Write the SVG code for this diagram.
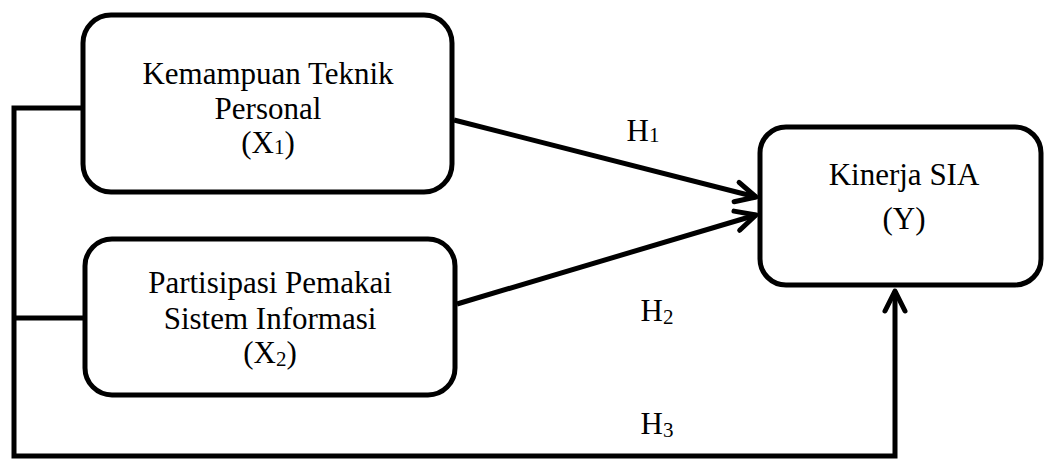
<svg xmlns="http://www.w3.org/2000/svg" width="1047" height="460" viewBox="0 0 1047 460">
  <style>
    .box { fill: #ffffff; stroke: #000000; stroke-width: 5; }
    .conn { fill: none; stroke: #000000; stroke-width: 5; stroke-linejoin: miter; }
    .lbl { font-family: 'Liberation Serif', 'Times New Roman', Times, serif; font-size: 31px; fill: #000000; text-anchor: middle; }
    .sub { font-size: 21px; }
  </style>
  <defs>
    <marker id="arrow" markerUnits="userSpaceOnUse" viewBox="-26 -14 30 28" markerWidth="30" markerHeight="28" refX="0" refY="0" orient="auto" overflow="visible">
      <path d="M-20,-10 L0,0 L-20,10" fill="none" stroke="#000000" stroke-width="5" stroke-linecap="round" stroke-linejoin="round"/>
    </marker>
  </defs>
  <rect width="1047" height="460" fill="#ffffff"/>

  <g id="connectors">
    <path class="conn" d="M81,108 H14 V456 H895 V291" marker-end="url(#arrow)"/>
    <path class="conn" d="M14,318 H83"/>
    <path class="conn" d="M454,120 L756,197" marker-end="url(#arrow)"/>
    <path class="conn" d="M457,304 L756,215" marker-end="url(#arrow)"/>
  </g>

  <g id="node-x1">
    <rect class="box" x="83" y="15" width="369" height="177" rx="28" ry="28"/>
    <text class="lbl" x="268" y="84">Kemampuan Teknik</text>
    <text class="lbl" x="268" y="119">Personal</text>
    <text class="lbl" x="268" y="153">(X<tspan class="sub" dy="1">1</tspan><tspan dy="-1">)</tspan></text>
  </g>

  <g id="node-x2">
    <rect class="box" x="85" y="239" width="370" height="156" rx="27" ry="27"/>
    <text class="lbl" x="270" y="293">Partisipasi Pemakai</text>
    <text class="lbl" x="270" y="329">Sistem Informasi</text>
    <text class="lbl" x="270" y="363">(X<tspan class="sub" dy="3">2</tspan><tspan dy="-3">)</tspan></text>
  </g>

  <g id="node-y">
    <rect class="box" x="760" y="127" width="281" height="158" rx="26" ry="26"/>
    <text class="lbl" x="904" y="185">Kinerja SIA</text>
    <text class="lbl" x="904" y="229">(Y)</text>
  </g>

  <g id="labels">
    <text class="lbl" x="643" y="141">H<tspan class="sub" dy="1">1</tspan></text>
    <text class="lbl" x="657" y="321">H<tspan class="sub" dy="3">2</tspan></text>
    <text class="lbl" x="657" y="434">H<tspan class="sub" dy="3">3</tspan></text>
  </g>
</svg>
